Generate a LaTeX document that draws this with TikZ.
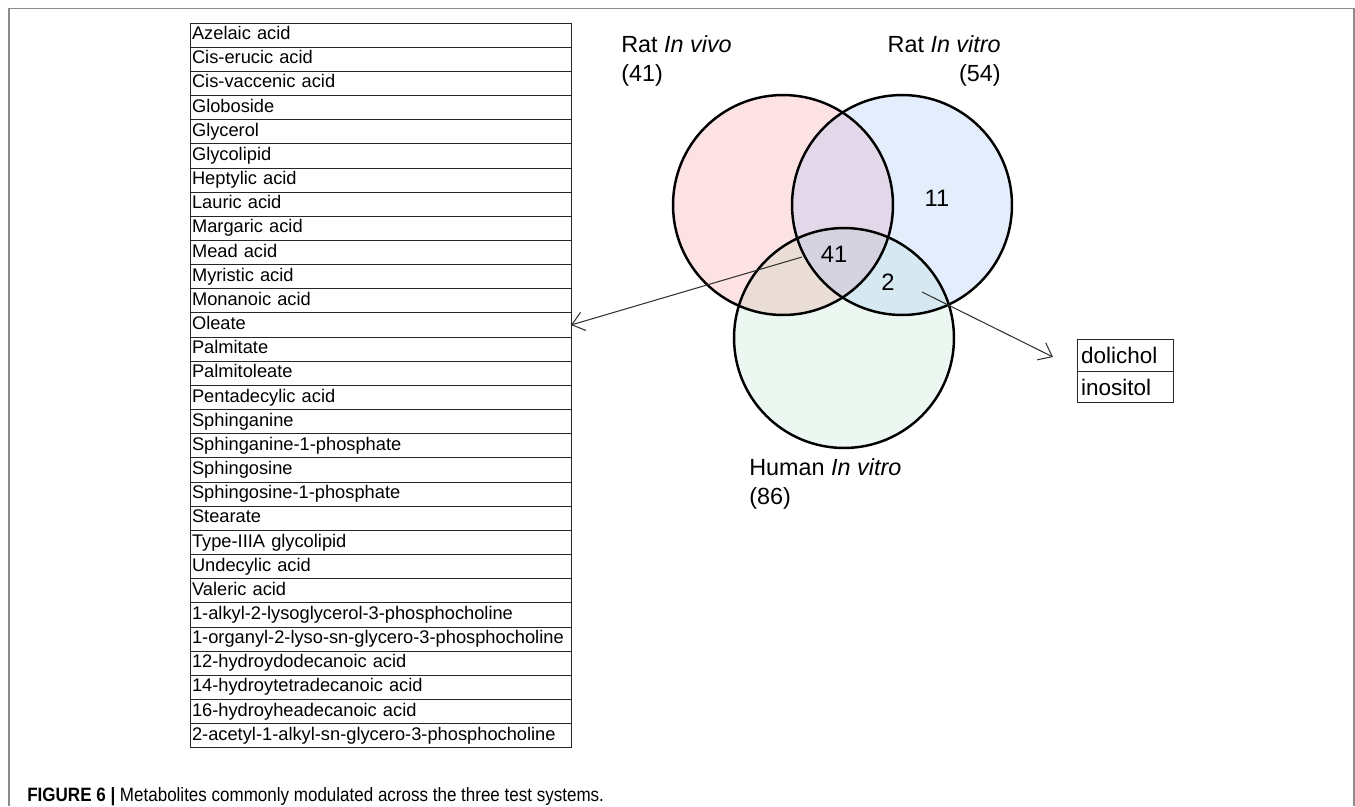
\documentclass[tikz,border=0pt]{standalone}
\usepackage{fontspec}
\setmainfont{Liberation Sans}
\newfontfamily\capfont[FakeStretch=0.88]{Liberation Sans}
\usetikzlibrary{positioning, arrows.meta}

\definecolor{vivofill}{HTML}{FDE2E4}
\definecolor{vitrofill}{HTML}{E3EDFB}
\definecolor{humanfill}{HTML}{ECF7F1}
\definecolor{vivovitro}{HTML}{E3D8EA}
\definecolor{vivohuman}{HTML}{EADDD6}
\definecolor{vitrohuman}{HTML}{D6E9F2}
\definecolor{allthree}{HTML}{D5D3DF}

\begin{document}
\begin{tikzpicture}[
    x=0.02cm, y=-0.02cm,
    metrow/.style={rectangle, draw=black!85, line width=0.5pt, outer sep=0pt, inner xsep=0.04cm, inner ysep=0pt, minimum height=0.4833cm, text width=7.54cm, align=left, text height=7.4pt, text depth=2.2pt, font=\fontsize{10.4}{12}\selectfont},
    venn/.style={circle, draw=black, line width=1.4pt, minimum size=4.4cm, inner sep=0pt},
    setlabel/.style={font=\fontsize{13.3}{16.5}\selectfont, inner sep=0pt},
    tally/.style={font=\fontsize{13.5}{15}\selectfont, inner sep=0pt},
    namebox/.style={rectangle, draw=black!85, line width=0.5pt, outer sep=0pt, inner xsep=0.08cm, inner ysep=0pt, minimum height=0.63cm, text width=1.76cm, align=left, font=\fontsize{12.8}{15}\selectfont},
    arrow/.style={-{Straight Barb[length=2.4mm, width=3.8mm]}, draw=black!80, line width=0.6pt}
]
\useasboundingbox (0,0) rectangle (1355,806);

% Frame
\draw[black!45, line width=0.9pt] (9,806) -- (9,8.5) -- (1354,8.5) -- (1354,806);

% Metabolite list
\coordinate (r0) at (380.5,23);
\foreach \met [count=\i] in {Azelaic acid, Cis-erucic acid, Cis-vaccenic acid, Globoside, Glycerol, Glycolipid, Heptylic acid, Lauric acid, Margaric acid, Mead acid, Myristic acid, Monanoic acid, Oleate, Palmitate, Palmitoleate, Pentadecylic acid, Sphinganine, Sphinganine-1-phosphate, Sphingosine, Sphingosine-1-phosphate, Stearate, Type-IIIA glycolipid, Undecylic acid, Valeric acid, 1-alkyl-2-lysoglycerol-3-phosphocholine, 1-organyl-2-lyso-sn-glycero-3-phosphocholine, 12-hydroydodecanoic acid, 14-hydroytetradecanoic acid, 16-hydroyheadecanoic acid, 2-acetyl-1-alkyl-sn-glycero-3-phosphocholine}
{
  \pgfmathtruncatemacro\j{\i-1}
  \node[metrow, below=0pt of r\j] (r\i) {\mbox{\met}};
}

% Venn centres
\coordinate (cvivo) at (783,205);
\coordinate (cvitro) at (902,205);
\coordinate (chuman) at (844,338);

% Region fills
\fill[vivofill] (cvivo) circle[radius=2.2cm];
\fill[vitrofill] (cvitro) circle[radius=2.2cm];
\fill[humanfill] (chuman) circle[radius=2.2cm];
\begin{scope}
  \clip (cvivo) circle[radius=2.2cm];
  \fill[vivovitro] (cvitro) circle[radius=2.2cm];
  \fill[vivohuman] (chuman) circle[radius=2.2cm];
\end{scope}
\begin{scope}
  \clip (cvitro) circle[radius=2.2cm];
  \fill[vitrohuman] (chuman) circle[radius=2.2cm];
  \clip (cvivo) circle[radius=2.2cm];
  \fill[allthree] (chuman) circle[radius=2.2cm];
\end{scope}

% Circles
\node[venn] (vivo) at (cvivo) {};
\node[venn] (vitro) at (cvitro) {};
\node[venn] (human) at (chuman) {};

% Set labels
\node[setlabel, anchor=west, align=left] (vivolab) at (621,61) {Rat \textit{In vivo}\\(41)};
\node[setlabel, anchor=east, align=right] (vitrolab) at (1001,61) {Rat \textit{In vitro}\\(54)};
\node[setlabel, anchor=west, align=left] (humanlab) at (749,484) {Human \textit{In vitro}\\(86)};

% Counts
\node[tally] (n11) at (937,198) {11};
\node[tally] (n41) at (834,254) {41};
\node[tally] (n2) at (888,282) {2};

% Shared by vitro sets only
\node[namebox] (dol) at (1125,355.5) {dolichol};
\node[namebox, below=0pt of dol] (ino) {inositol};

% Arrows
\coordinate (from41) at (802,257);
\coordinate (from2) at (922,292);
\coordinate (to2) at (1053,357);
\draw[arrow] (from41) -- (r13.east);
\draw[arrow] (from2) -- (to2);

% Caption
\node[anchor=base west, inner sep=0pt, font=\capfont\fontsize{11}{13}\selectfont] (caption) at (27,801) {\textbf{FIGURE 6 |} Metabolites commonly modulated across the three test systems.};

\end{tikzpicture}
\end{document}
